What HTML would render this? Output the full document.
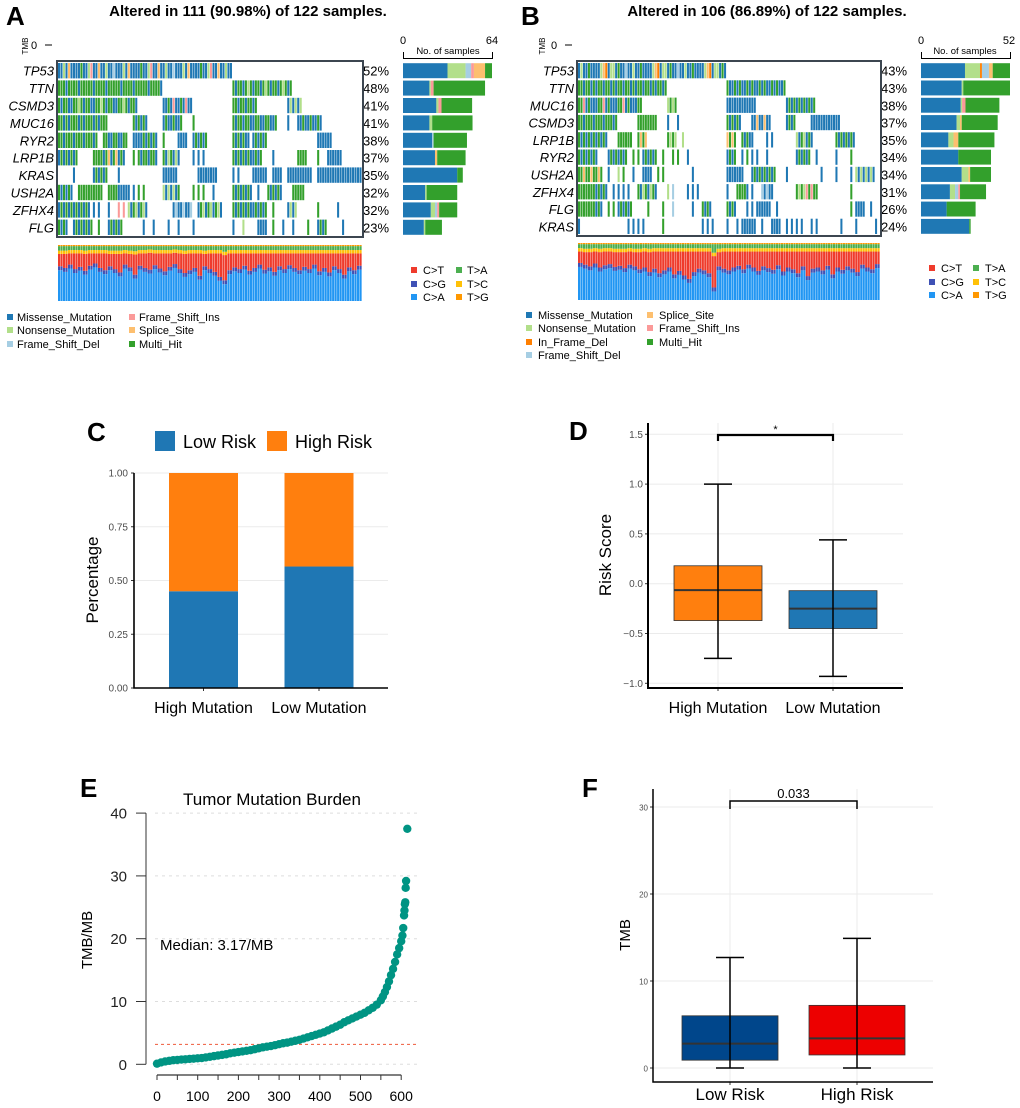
<!DOCTYPE html>
<html><head><meta charset="utf-8"><style>
html,body{margin:0;padding:0;background:#fff;}
svg{display:block;font-family:"Liberation Sans",Arial,sans-serif;}
</style></head><body>
<svg id="fig" width="1020" height="1108" viewBox="0 0 1020 1108" xmlns="http://www.w3.org/2000/svg">
<rect x="0" y="0" width="1020" height="1108" fill="#fff"/>
<text x="6" y="25" font-size="26" font-weight="bold">A</text>
<text x="248" y="16" font-size="15" font-weight="bold" text-anchor="middle">Altered in 111 (90.98%) of 122 samples.</text>
<text x="521" y="25" font-size="26" font-weight="bold">B</text>
<text x="767" y="16" font-size="15" font-weight="bold" text-anchor="middle">Altered in 106 (86.89%) of 122 samples.</text>

<text transform="translate(28,46) rotate(-90)" font-size="8" text-anchor="middle">TMB</text>
<text x="31" y="49" font-size="11">0</text>
<line x1="45" y1="45" x2="52" y2="45" stroke="#000"/>
<text transform="translate(545,46) rotate(-90)" font-size="8" text-anchor="middle">TMB</text>
<text x="551" y="49" font-size="11">0</text>
<line x1="565" y1="45" x2="572" y2="45" stroke="#000"/>

<text x="403" y="44" font-size="11" text-anchor="middle">0</text>
<text x="492" y="44" font-size="11" text-anchor="middle">64</text>
<text x="448" y="54" font-size="9.5" text-anchor="middle">No. of samples</text>
<path d="M403.5,52 V58.5 H492.5 V52" fill="none" stroke="#000"/>
<text x="921" y="44" font-size="11" text-anchor="middle">0</text>
<text x="1009" y="44" font-size="11" text-anchor="middle">52</text>
<text x="965" y="54" font-size="9.5" text-anchor="middle">No. of samples</text>
<path d="M921.5,52 V58.5 H1010.5 V52" fill="none" stroke="#000"/>

<g font-size="11">
<rect x="7" y="314" width="6" height="6" fill="#1f78b4"/><text x="17" y="321">Missense_Mutation</text>
<rect x="7" y="327" width="6" height="6" fill="#b2df8a"/><text x="17" y="334">Nonsense_Mutation</text>
<rect x="7" y="341" width="6" height="6" fill="#a6cee3"/><text x="17" y="348">Frame_Shift_Del</text>
<rect x="129" y="314" width="6" height="6" fill="#fb9a99"/><text x="139" y="321">Frame_Shift_Ins</text>
<rect x="129" y="327" width="6" height="6" fill="#fdbf6f"/><text x="139" y="334">Splice_Site</text>
<rect x="129" y="341" width="6" height="6" fill="#33a02c"/><text x="139" y="348">Multi_Hit</text>
</g>
<g font-size="11">
<rect x="411" y="267" width="6" height="6" fill="#ef3b2c"/><text x="423" y="274">C&gt;T</text>
<rect x="411" y="281" width="6" height="6" fill="#3f51b5"/><text x="423" y="288">C&gt;G</text>
<rect x="411" y="294" width="6" height="6" fill="#2196f3"/><text x="423" y="301">C&gt;A</text>
<rect x="456" y="267" width="6" height="6" fill="#4caf50"/><text x="467" y="274">T&gt;A</text>
<rect x="456" y="281" width="6" height="6" fill="#ffc107"/><text x="467" y="288">T&gt;C</text>
<rect x="456" y="294" width="6" height="6" fill="#ff9800"/><text x="467" y="301">T&gt;G</text>
</g>
<g font-size="11">
<rect x="526" y="312" width="6" height="6" fill="#1f78b4"/><text x="538" y="319">Missense_Mutation</text>
<rect x="526" y="325" width="6" height="6" fill="#b2df8a"/><text x="538" y="332">Nonsense_Mutation</text>
<rect x="526" y="339" width="6" height="6" fill="#ff7f00"/><text x="538" y="346">In_Frame_Del</text>
<rect x="526" y="352" width="6" height="6" fill="#a6cee3"/><text x="538" y="359">Frame_Shift_Del</text>
<rect x="647" y="312" width="6" height="6" fill="#fdbf6f"/><text x="659" y="319">Splice_Site</text>
<rect x="647" y="325" width="6" height="6" fill="#fb9a99"/><text x="659" y="332">Frame_Shift_Ins</text>
<rect x="647" y="339" width="6" height="6" fill="#33a02c"/><text x="659" y="346">Multi_Hit</text>
</g>
<g font-size="11">
<rect x="929" y="265" width="6" height="6" fill="#ef3b2c"/><text x="941" y="272">C&gt;T</text>
<rect x="929" y="279" width="6" height="6" fill="#3f51b5"/><text x="941" y="286">C&gt;G</text>
<rect x="929" y="292" width="6" height="6" fill="#2196f3"/><text x="941" y="299">C&gt;A</text>
<rect x="973" y="265" width="6" height="6" fill="#4caf50"/><text x="985" y="272">T&gt;A</text>
<rect x="973" y="279" width="6" height="6" fill="#ffc107"/><text x="985" y="286">T&gt;C</text>
<rect x="973" y="292" width="6" height="6" fill="#ff9800"/><text x="985" y="299">T&gt;G</text>
</g>

<text x="87" y="441" font-size="26" font-weight="bold">C</text>
<rect x="155" y="431" width="20" height="20" fill="#1f77b4"/>
<text x="183" y="448" font-size="18">Low Risk</text>
<rect x="267" y="431" width="20" height="20" fill="#ff7f0e"/>
<text x="295" y="448" font-size="18">High Risk</text>
<text transform="translate(98,580) rotate(-90)" font-size="17" text-anchor="middle">Percentage</text>

<text x="569" y="440" font-size="26" font-weight="bold">D</text>
<text transform="translate(611,555) rotate(-90)" font-size="17" text-anchor="middle">Risk Score</text>

<text x="80" y="797" font-size="26" font-weight="bold">E</text>
<text x="272" y="805" font-size="17" text-anchor="middle">Tumor Mutation Burden</text>
<text transform="translate(92,940) rotate(-90)" font-size="15" text-anchor="middle">TMB/MB</text>
<text x="160" y="950" font-size="15">Median: 3.17/MB</text>

<text x="582" y="797" font-size="26" font-weight="bold">F</text>
<text transform="translate(630,935) rotate(-90)" font-size="15" text-anchor="middle">TMB</text>

<g id="dyn"></g>
</svg>
<script>
const genesA = ["TP53","TTN","CSMD3","MUC16","RYR2","LRP1B","KRAS","USH2A","ZFHX4","FLG"];
const pctA = ["52%","48%","41%","41%","38%","37%","35%","32%","32%","23%"];
const runsA = [
 [[0,34,"MMNMSMMMMHMMNIMMSMMNMMDM"]],
 [[0,20,"HHHMHHHHMHH"],[35,46,"HMHHMHN"]],
 [[0,15,"HMHHMMHHN"],[21,26,"MMHMI"],[35,39,"HHM"],[46,48,"MN"]],
 [[0,9,"HHMHMH"],[15,17,"HM"],[21,24,"MHM"],[27,27,"H"],[35,38,"HMH"],[39,43,"MHHM"],[46,46,"M"],[48,52,"MMH"]],
 [[0,7,"HHMH"],[9,13,"HHMM"],[15,16,"M"],[17,19,"HM"],[21,21,"H"],[24,25,"M"],[27,29,"MH"],[35,37,"HM"],[38,38,"M"],[39,41,"MH"],[52,54,"MM"]],
 [[0,3,"MH"],[7,8,"H"],[9,12,"MHS"],[13,13,"M"],[15,15,"H"],[16,19,"HMH"],[21,23,"HMN"],[24,24,"M"],[27,29,"M."],[35,38,"HM"],[39,40,"MH"],[43,43,"M"],[48,49,"H"],[52,52,"H"],[54,56,"M"]],
 [[3,3,"M"],[7,9,"MH"],[12,12,"M"],[21,23,"M"],[28,31,"M"],[35,35,"M"],[36,36,"M"],[39,41,"M"],[43,44,"M"],[46,50,"M"],[52,53,"M"],[54,55,"M"],[56,60,"M"]],
 [[0,2,"HM"],[4,6,"HH"],[7,8,"H"],[10,11,"H"],[12,13,"M"],[14,15,"M."],[16,16,"H"],[17,17,"H"],[21,23,"NM"],[24,24,"H"],[27,29,"H."],[31,31,"M"],[35,38,"HM"],[40,40,"M"],[42,44,"HM"],[47,48,"H"],[49,49,"H"]],
 [[0,2,"MH"],[3,5,"MH"],[6,6,"M"],[7,7,"M"],[8,8,"M"],[10,10,"M"],[12,13,"I."],[14,17,"NMH"],[23,26,"MDM"],[28,32,"MHN"],[35,38,"HM"],[39,41,"MH"],[43,43,"H"],[46,47,"MN"],[52,52,"H"],[56,56,"M"]],
 [[0,1,"HM"],[3,6,"MH"],[8,8,"H"],[10,12,"MH"],[17,17,"M"],[19,19,"M"],[22,22,"M"],[24,24,"M"],[27,27,"M"],[35,35,"M"],[37,37,"N"],[40,41,"M"],[43,43,"H"],[45,45,"M"],[47,47,"M"],[50,50,"H"],[52,53,"MH"],[57,57,"M"]]
];
const barsA = [
 [["M",32],["N",13],["D",4],["I",2],["S",8],["H",5]],
 [["M",19],["N",1],["I",2],["H",37]],
 [["M",24],["N",1.5],["I",2.2],["H",22]],
 [["M",19],["N",2],["H",29]],
 [["M",21],["D",1],["H",24]],
 [["M",23],["S",1.6],["H",20.4]],
 [["M",39],["H",4]],
 [["M",16],["N",1],["H",22]],
 [["M",20],["N",3],["D",1.6],["I",1.4],["H",13]],
 [["M",15],["N",1],["H",12]]
];
const genesB = ["TP53","TTN","MUC16","CSMD3","LRP1B","RYR2","USH2A","ZFHX4","FLG","KRAS"];
const pctB = ["43%","43%","38%","37%","35%","34%","34%","31%","26%","24%"];
const runsB = [
 [[0,29,"MNMMHMMMMNSFMNNMHMMDM"]],
 [[0,17,"HHMHHMHM"],[30,41,"HMMHM"]],
 [[0,12,"HHIMHMMM"],[18,19,"NH"],[30,35,"M"],[42,47,"MHMH"]],
 [[0,7,"HHMH"],[12,15,"H"],[18,18,"M"],[20,20,"M"],[30,32,"HM"],[35,38,"MMS"],[42,43,"MH"],[47,52,"M"]],
 [[0,5,"HM"],[8,10,"H"],[12,13,"HS"],[18,19,"HN"],[21,21,"N"],[30,31,"SH"],[33,34,"HM"],[35,35,"M"],[38,39,"M."],[44,46,"NMH"],[47,47,"M"],[52,55,"HM"]],
 [[0,3,"HM"],[6,9,"MH"],[11,11,"H"],[12,12,"H"],[13,15,"MH"],[17,17,"H"],[19,19,"H"],[20,20,"H"],[22,22,"M"],[30,31,"MH"],[33,33,"M"],[34,34,"H"],[35,36,"M."],[38,38,"M"],[44,46,"MH"],[48,48,"M"],[52,52,"M"],[55,55,"H"]],
 [[0,4,"HHS"],[6,6,"M"],[8,8,"N"],[9,9,"H"],[11,11,"M"],[13,14,"M"],[16,17,"H."],[23,23,"M"],[30,32,"M"],[33,33,"M"],[35,39,"MH"],[42,42,"M"],[49,49,"M"],[52,52,"M"],[55,55,"M"],[56,59,"NM"]],
 [[0,2,"H"],[3,5,"HM"],[7,7,"M"],[8,10,"M."],[12,15,"HMN"],[18,18,"N"],[19,19,"D"],[22,24,"M."],[30,30,"M"],[32,33,"H"],[34,34,"M"],[35,35,"M"],[37,38,"DM"],[39,39,"M"],[44,45,"HN"],[46,47,"IH"],[48,48,"H"],[55,55,"H"]],
 [[0,2,"H"],[3,4,"HM"],[6,6,"H"],[7,7,"H"],[8,10,"MH"],[14,14,"H"],[17,17,"H"],[19,19,"D"],[23,23,"M"],[25,26,"HM"],[30,31,"HM"],[34,34,"M"],[35,35,"M"],[36,38,"M"],[40,40,"M"],[55,55,"H"],[56,57,"M"],[59,59,"M"]],
 [[0,0,"M"],[10,13,"M."],[17,17,"H"],[25,27,"M."],[30,30,"M"],[32,32,"M"],[33,35,"M"],[37,37,"M"],[39,40,"M"],[42,45,"M."],[47,48,"M."],[53,53,"M"],[56,56,"M"],[60,60,"M"]]
];
const barsB = [
 [["M",25.7],["N",8.8],["F",1.1],["D",4.1],["S",2.2],["H",10.1]],
 [["M",23.8],["N",0.9],["H",27.3]],
 [["M",23.2],["N",0.8],["I",2],["H",19.8]],
 [["M",20.8],["N",2],["S",1],["H",21]],
 [["M",16],["N",3],["S",2.8],["H",21.1]],
 [["M",21.8],["H",19.1]],
 [["M",23.8],["N",3.9],["S",1],["H",12.2]],
 [["M",16.9],["N",3],["D",1.9],["I",1],["H",15.2]],
 [["M",15],["H",16.9]],
 [["M",28.2],["H",0.8]]
];
const caA = [0.55,0.52,0.58,0.50,0.54,0.47,0.56,0.60,0.52,0.48,0.55,0.50,0.44,0.58,0.53,0.40,0.56,0.52,0.49,0.57,0.51,0.46,0.54,0.59,0.50,0.43,0.48,0.52,0.38,0.55,0.50,0.45,0.36,0.30,0.48,0.53,0.50,0.56,0.47,0.52,0.58,0.49,0.53,0.45,0.55,0.50,0.57,0.52,0.48,0.54,0.50,0.58,0.46,0.52,0.44,0.55,0.50,0.40,0.53,0.48,0.56];
const ctA = [0.22,0.25,0.20,0.28,0.24,0.30,0.22,0.18,0.26,0.30,0.22,0.27,0.33,0.20,0.24,0.36,0.22,0.26,0.30,0.21,0.27,0.32,0.24,0.20,0.28,0.34,0.30,0.26,0.40,0.22,0.28,0.33,0.42,0.45,0.30,0.25,0.28,0.22,0.31,0.26,0.20,0.29,0.25,0.33,0.23,0.28,0.21,0.26,0.30,0.24,0.28,0.20,0.32,0.26,0.34,0.23,0.28,0.38,0.25,0.30,0.22];
const caB = [0.58,0.55,0.52,0.57,0.50,0.54,0.56,0.51,0.53,0.49,0.55,0.52,0.47,0.50,0.42,0.48,0.40,0.45,0.50,0.38,0.44,0.36,0.30,0.42,0.48,0.45,0.40,0.15,0.52,0.48,0.45,0.50,0.53,0.47,0.55,0.50,0.44,0.52,0.49,0.46,0.54,0.43,0.50,0.47,0.40,0.52,0.35,0.48,0.50,0.45,0.53,0.38,0.50,0.46,0.52,0.48,0.42,0.55,0.50,0.47,0.56];
const ctB = [0.20,0.22,0.25,0.21,0.27,0.24,0.22,0.26,0.24,0.28,0.23,0.25,0.30,0.28,0.35,0.30,0.38,0.33,0.28,0.40,0.34,0.42,0.48,0.36,0.30,0.33,0.38,0.55,0.25,0.30,0.33,0.28,0.25,0.31,0.23,0.28,0.34,0.26,0.29,0.32,0.24,0.35,0.28,0.31,0.38,0.26,0.43,0.30,0.28,0.33,0.25,0.40,0.28,0.32,0.26,0.30,0.36,0.23,0.28,0.31,0.22];

const catC = ["High Mutation","Low Mutation"];
const lowRiskC = [0.45,0.565];
const ticksC = [0,0.25,0.5,0.75,1.0];
const tickLabelsC = ["0.00","0.25","0.50","0.75","1.00"];
const catD = ["High Mutation","Low Mutation"];
const dMin = [-0.75,-0.93], dQ1 = [-0.37,-0.45], dMed = [-0.065,-0.25], dQ3 = [0.18,-0.07], dMax = [1.0,0.44];
const ticksD = [-1.0,-0.5,0.0,0.5,1.0,1.5];
const tickLabelsD = ["\u22121.0","\u22120.5","0.0","0.5","1.0","1.5"];
const tmbIdx = [0,10,20,30,40,50,60,70,80,90,100,110,120,130,140,150,160,170,180,190,200,210,220,230,240,250,260,270,280,290,300,310,320,330,340,350,360,370,380,390,400,410,420,430,440,450,460,470,480,490,500,510,520,530,540,550,555,560,565,570,575,580,585,590,595,600,603,605,607,608,609,610,611,612,615];
const tmbVal = [0.1,0.3,0.45,0.55,0.65,0.7,0.75,0.8,0.85,0.9,0.95,1.0,1.1,1.2,1.3,1.4,1.5,1.6,1.75,1.85,1.95,2.05,2.15,2.25,2.4,2.55,2.7,2.8,2.9,3.05,3.2,3.35,3.45,3.6,3.75,3.9,4.1,4.3,4.5,4.7,4.9,5.1,5.4,5.7,6.0,6.3,6.7,7.0,7.3,7.6,7.9,8.2,8.6,9.0,9.5,10.2,10.8,11.5,12.3,13.2,14.2,15.2,16.3,17.5,18.5,19.6,20.5,21.7,23.7,24.5,25.5,25.8,28.1,29.2,37.5];
const tmbMedian = 3.17;
const ticksEy = [0,10,20,30,40];
const ticksEx = [0,50,100,150,200,250,300,350,400,450,500,550,600];
const labelsEx = [0,100,200,300,400,500,600];
const catF = ["Low Risk","High Risk"];
const fMin = [0,0], fQ1 = [0.9,1.5], fMed = [2.8,3.4], fQ3 = [6.0,7.2], fMax = [12.7,14.9];
const ticksF = [0,10,20,30];
const pvalF = "0.033";

const NS = "http://www.w3.org/2000/svg";
const root = document.getElementById("dyn");
function mk(tag, attrs, parent){ const e = document.createElementNS(NS, tag); for (const k in attrs) e.setAttribute(k, attrs[k]); (parent||root).appendChild(e); return e; }
const VC = {M:"#1f78b4",N:"#b2df8a",D:"#a6cee3",I:"#fb9a99",S:"#fdbf6f",H:"#33a02c",F:"#ff7f00"};

function drawOnco(genes, pcts, runs, bars, ca, ct, g){
  const N = 122, sw = (g.x1-g.x0)/N, rh = (g.y1-g.y0)/genes.length;
  genes.forEach((gene, r) => {
    const y = g.y0 + r*rh;
    const lab = mk("text", {x:g.x0-4, y:y+rh/2+5, "font-size":13, "font-style":"italic", "text-anchor":"end"});
    
    
    lab.textContent = gene;
    const pt = mk("text", {x:g.x1+1, y:y+rh/2+5, "font-size":13});
    
    
    pt.textContent = pcts[r];
    runs[r].forEach(run => {
      const s0 = run[0]*2, s1 = run[0]===run[1] ? run[0]*2 : run[1]*2+1;
      for (let s = s0; s <= s1; s++){
        const t = run[2][(s-s0) % run[2].length];
        if (t === ".") continue;
        const c = mk("rect", {x:g.x0+s*sw, y:y+1, width:sw*0.82, height:rh-2, fill:VC[t]});
        
        
      }
    });
    let acc = 0;
    bars[r].forEach(seg => {
      const b = mk("rect", {x:g.bx0+acc*g.bs, y:y+1.2, width:seg[1]*g.bs, height:rh-2.4, fill:VC[seg[0]]});
      
      
      acc += seg[1];
    });
  });
  const box = mk("rect", {x:g.x0-1, y:g.y0-1, width:g.x1-g.x0+2, height:g.y1-g.y0+2, fill:"none", stroke:"#3c4650", "stroke-width":2});
  
  
  const th = g.ty1 - g.ty0;
  for (let s = 0; s < N; s++){
    const p = Math.floor(s/2);
    const parts = [["#2196f3",ca[p]],["#3f51b5",0.07],["#ef3b2c",ct[p]],["#ffc107",0.06],["#4caf50",1-ca[p]-ct[p]-0.15],["#ff9800",0.02]];
    let yy = g.ty1;
    parts.forEach(pp => {
      const h = Math.max(0,pp[1])*th;
      const e = mk("rect", {x:g.x0+s*sw, y:yy-h, width:sw*0.85, height:h, fill:pp[0]});
      
      
      yy -= h;
    });
  }
}
drawOnco(genesA, pctA, runsA, barsA, caA, ctA, {x0:58,x1:362,y0:62,y1:236,bx0:403,bs:89/64,ty0:245,ty1:301});
drawOnco(genesB, pctB, runsB, barsB, caB, ctB, {x0:578,x1:880,y0:62,y1:235,bx0:921,bs:89/52,ty0:243,ty1:300});

(function(){
  const yS = v => 688 - v*215, xc = [203.5,319];
  ticksC.forEach((t,i) => {
    const gl = mk("line", {x1:134, x2:388, y1:yS(t), y2:yS(t), stroke:"#ebebeb"});
    
    
    const tk = mk("line", {x1:131, x2:134, y1:yS(t), y2:yS(t), stroke:"#333"});
    
    
    const tl = mk("text", {x:128, y:yS(t)+3.5, "font-size":10, fill:"#4d4d4d", "text-anchor":"end"});
    
    
    tl.textContent = tickLabelsC[i];
  });
  catC.forEach((c,i) => {
    const lo = mk("rect", {x:xc[i]-34.5, y:yS(lowRiskC[i]), width:69, height:yS(0)-yS(lowRiskC[i]), fill:"#1f77b4"});
    
    
    const hi = mk("rect", {x:xc[i]-34.5, y:yS(1), width:69, height:yS(lowRiskC[i])-yS(1), fill:"#ff7f0e"});
    
    
    const tk = mk("line", {x1:xc[i], x2:xc[i], y1:688, y2:691, stroke:"#333"});
    
    
    const xl = mk("text", {x:xc[i], y:713, "font-size":16, "text-anchor":"middle"});
    
    
    xl.textContent = c;
  });
  const ax = mk("path", {d:"M134,473 V688 H388", fill:"none", stroke:"#000", "stroke-width":1.6});
  
  
})();

function boxPlot(cfg){
  const ys = cfg.yS;
  cfg.ticks.forEach((t,i) => {
    const gl = mk("line", {x1:cfg.ax, x2:cfg.right, y1:ys(t), y2:ys(t), stroke:"#ebebeb"});
    
    
    const tk = mk("line", {x1:cfg.ax-3, x2:cfg.ax, y1:ys(t), y2:ys(t), stroke:"#333"});
    
    
    const tl = mk("text", {x:cfg.ax-5, y:ys(t)+3.5, "font-size":cfg.tfs, fill:"#4d4d4d", "text-anchor":"end"});
    
    
    tl.textContent = cfg.tickLabels[i];
  });
  cfg.xc.forEach(x => {
    const vg = mk("line", {x1:x, x2:x, y1:cfg.top, y2:cfg.bottom, stroke:"#ebebeb"});
    
    
  });
  cfg.cats.forEach((c,i) => {
    const x = cfg.xc[i];
    const bx = mk("rect", {x:x-cfg.hw, y:ys(cfg.q3[i]), width:2*cfg.hw, height:ys(cfg.q1[i])-ys(cfg.q3[i]), fill:cfg.colors[i], stroke:"#333", "stroke-width":0.8});
    
    
    const md = mk("line", {x1:x-cfg.hw, x2:x+cfg.hw, y1:ys(cfg.med[i]), y2:ys(cfg.med[i]), stroke:"#333", "stroke-width":2});
    
    
    const wk = mk("line", {x1:x, x2:x, y1:ys(cfg.max[i]), y2:ys(cfg.min[i]), stroke:"#000", "stroke-width":1.5});
    
    
    [cfg.max[i], cfg.min[i]].forEach(v => {
      const cp = mk("line", {x1:x-14, x2:x+14, y1:ys(v), y2:ys(v), stroke:"#000", "stroke-width":1.5});
      
      
    });
    const tk = mk("line", {x1:x, x2:x, y1:cfg.bottom, y2:cfg.bottom+3, stroke:"#333"});
    
    
    const xl = mk("text", {x:x, y:cfg.xly, "font-size":cfg.xfs, "text-anchor":"middle"});
    
    
    xl.textContent = c;
  });
  const ax = mk("path", {d:`M${cfg.ax},${cfg.top} V${cfg.bottom} H${cfg.right}`, fill:"none", stroke:"#000", "stroke-width":cfg.aw});
  
  
  const by = cfg.brY, bl = cfg.brLeg;
  const br = mk("path", {d:`M${cfg.xc[0]},${by+bl} V${by} H${cfg.xc[1]} V${by+bl}`, fill:"none", stroke:"#000", "stroke-width":cfg.bw});
  
  
  const st = mk("text", {x:(cfg.xc[0]+cfg.xc[1])/2, y:cfg.sigY, "font-size":cfg.sigFs, "text-anchor":"middle"});
  
  
  st.textContent = cfg.sig;
}
boxPlot({yS:v => 583.7 - v*99.6, ticks:ticksD, tickLabels:tickLabelsD, ax:648, right:903, top:423, bottom:688,
  xc:[718,833], hw:44, cats:catD, colors:["#ff7f0e","#1f77b4"], q1:dQ1, q3:dQ3, med:dMed, min:dMin, max:dMax,
  xly:713, xfs:16, tfs:10, aw:2, brY:435, brLeg:6, bw:2.2, sigY:433, sigFs:11, sig:"*"});
boxPlot({yS:v => 1068 - v*8.7, ticks:ticksF, tickLabels:ticksF.map(String), ax:653, right:933, top:789, bottom:1082,
  xc:[730,857], hw:48, cats:catF, colors:["#00468b","#ed0000"], q1:fQ1, q3:fQ3, med:fMed, min:fMin, max:fMax,
  xly:1100, xfs:17, tfs:8, aw:1.5, brY:801, brLeg:8, bw:1.5, sigY:798, sigFs:13, sig:pvalF});

(function(){
  const yS = v => 1064.3 - v*6.28, xS = i => 157 + i*0.407;
  ticksEy.forEach(t => {
    const gl = mk("line", {x1:155, x2:418, y1:yS(t), y2:yS(t), stroke:"#dddddd", "stroke-dasharray":"3,4"});
    
    
    const tk = mk("line", {x1:136, x2:146, y1:yS(t), y2:yS(t), stroke:"#333"});
    
    
    const tl = mk("text", {x:127, y:yS(t)+5.5, "font-size":15, fill:"#222", "text-anchor":"end"});
    
    
    tl.textContent = t;
  });
  const ya = mk("line", {x1:146, x2:146, y1:yS(40), y2:yS(0), stroke:"#333"});
  
  
  const xa = mk("line", {x1:xS(0), x2:xS(600), y1:1075, y2:1075, stroke:"#333", "stroke-width":1.2});
  
  
  ticksEx.forEach(t => {
    const tk = mk("line", {x1:xS(t), x2:xS(t), y1:1075, y2:1080, stroke:"#333"});
    
    
  });
  labelsEx.forEach(t => {
    const tl = mk("text", {x:xS(t), y:1101, "font-size":14, "text-anchor":"middle"});
    
    
    tl.textContent = t;
  });
  const ml = mk("line", {x1:155, x2:418, y1:yS(tmbMedian), y2:yS(tmbMedian), stroke:"#ee5a3a", "stroke-dasharray":"3,3"});
  
  
  tmbIdx.forEach((ix,k) => {
    const p = mk("circle", {cx:xS(ix), cy:yS(tmbVal[k]), r:4.2, fill:"#009483"});
    
    
  });
})();
</script>
</body></html>
